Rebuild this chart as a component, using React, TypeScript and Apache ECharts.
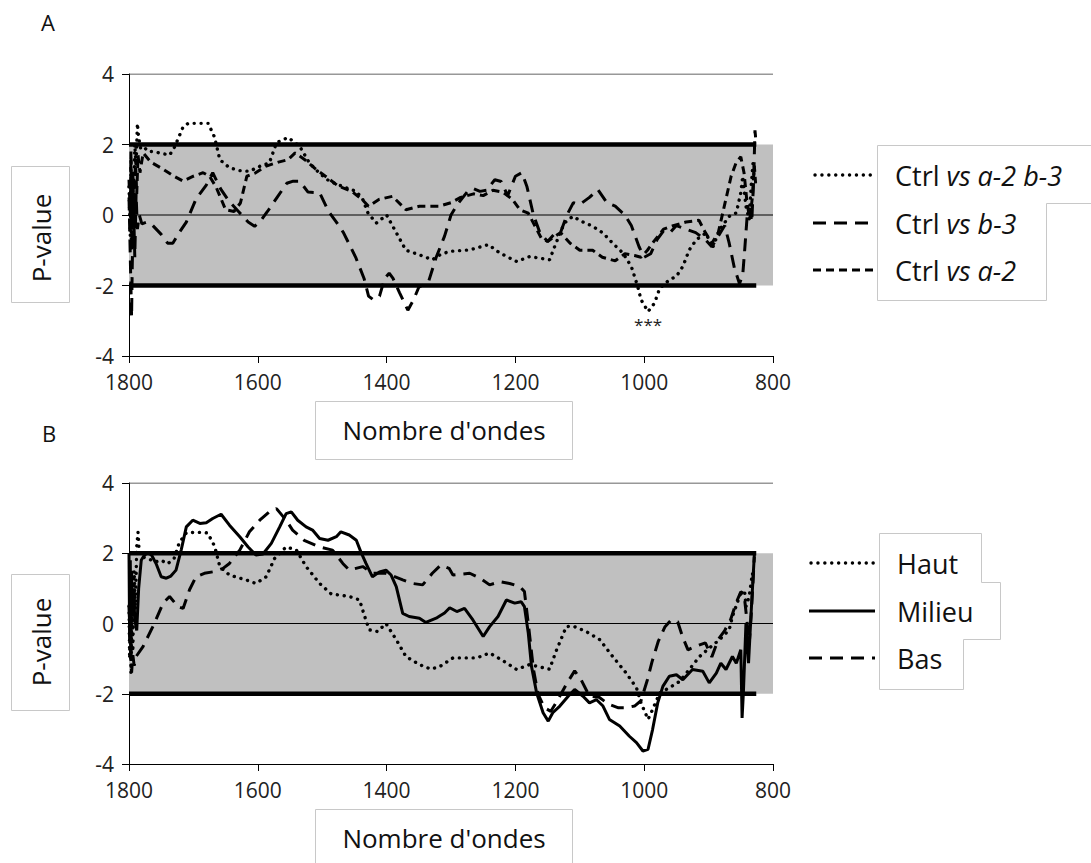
import React, { useEffect, useRef } from "react";
import * as echarts from "echarts";

type Pt = [number, number];

const FONT = "'Open Sans', 'DejaVu Sans', sans-serif";

const xTicks = [1800, 1600, 1400, 1200, 1000, 800];
const yTicks = [-4, -2, 0, 2, 4];

const legendA = ["Ctrl vs a-2 b-3", "Ctrl vs b-3", "Ctrl vs a-2"];
const legendB = ["Haut", "Milieu", "Bas"];

// Panel A — Ctrl vs a-2 b-3 (dotted)
const ctrlA2B3: Pt[] = [
  [1800, 0.8], [1798, -0.6], [1797, 1.6], [1796, -1.0], [1794, 1.2], [1793, 0.2], [1791, 2.0], [1789, 1.4],
  [1787, 2.6], [1785, 2.2], [1782, 1.9], [1778, 1.95], [1770, 1.8], [1763, 1.8], [1750, 1.75], [1737, 1.7],
  [1730, 1.9], [1724, 2.15], [1716, 2.5], [1708, 2.6], [1690, 2.6], [1677, 2.6], [1667, 2.2], [1659, 1.57],
  [1644, 1.34], [1628, 1.26], [1613, 1.24], [1597, 1.38], [1582, 1.48], [1571, 2.05], [1553, 2.2], [1535, 1.95],
  [1520, 1.48], [1505, 1.2], [1489, 0.96], [1463, 0.77], [1447, 0.67], [1437, 0.44], [1429, 0.06], [1416, -0.23],
  [1400, 0.0], [1385, -0.5], [1370, -1.0], [1349, -1.13], [1329, -1.27], [1317, -1.13], [1302, -1.03],
  [1271, -0.99], [1242, -0.84], [1224, -1.08], [1198, -1.32], [1178, -1.18], [1147, -1.27], [1137, -0.8],
  [1124, -0.23], [1111, -0.04], [1095, -0.2], [1080, -0.32], [1064, -0.51], [1049, -0.8], [1033, -1.08],
  [1020, -1.46], [1010, -2.03], [1005, -2.4], [994, -2.74], [984, -2.5], [976, -2.08], [961, -1.84],
  [950, -1.74], [940, -1.46], [930, -0.99], [919, -0.7], [904, -0.51], [894, -0.94], [883, -0.42],
  [868, -0.04], [857, 0.06], [850, 0.63], [847, 1.1], [842, 0.25], [837, -0.13], [834, 0.8], [831, 1.48],
];

// Panel A — Ctrl vs b-3 (long dashes)
const ctrlB3: Pt[] = [
  [1800, 0.5], [1798, -1.2], [1796, -2.9], [1795, -1.5], [1793, 0.3], [1791, -1.2], [1789, 0.6], [1787, -0.4],
  [1784, 0.0], [1780, -0.25], [1772, -0.2], [1763, -0.3], [1750, -0.55], [1740, -0.8], [1732, -0.8],
  [1722, -0.5], [1711, -0.2], [1696, 0.45], [1680, 0.85], [1670, 1.2], [1658, 0.75], [1645, 0.4], [1630, 0.1],
  [1615, -0.2], [1605, -0.32], [1595, -0.15], [1585, 0.1], [1570, 0.5], [1555, 0.9], [1545, 0.96],
  [1535, 0.96], [1522, 0.65], [1504, 0.63], [1490, 0.1], [1478, -0.2], [1467, -0.5], [1448, -1.2],
  [1435, -1.8], [1428, -2.3], [1421, -2.4], [1411, -2.3], [1403, -1.8], [1396, -1.65], [1390, -1.8],
  [1380, -2.2], [1367, -2.7], [1358, -2.4], [1350, -2.05], [1335, -1.9], [1323, -1.2], [1310, -0.6],
  [1300, 0.0], [1290, 0.3], [1275, 0.65], [1265, 0.75], [1255, 0.67], [1245, 0.7], [1232, 1.0], [1222, 0.95],
  [1212, 0.55], [1200, 1.1], [1190, 1.2], [1182, 0.8], [1172, 0.0], [1162, -0.5], [1150, -0.75],
  [1140, -0.55], [1130, -0.5], [1120, 0.0], [1110, 0.35], [1100, 0.3], [1085, 0.5], [1072, 0.72],
  [1058, 0.35], [1045, 0.25], [1030, 0.0], [1020, -0.3], [1008, -0.9], [1000, -1.2], [990, -1.1],
  [980, -0.7], [970, -0.45], [960, -0.5], [950, -0.3], [935, -0.4], [920, -0.5], [905, -0.7], [895, -0.9],
  [885, -0.6], [875, -0.3], [868, -0.8], [860, -1.5], [852, -1.95], [847, -1.7], [844, -1.0], [840, 0.0],
  [836, 0.2], [833, -0.2], [830, 1.0], [828, 2.4], [827, 2.2],
];

// Panel A — Ctrl vs a-2 (short dashes)
const ctrlA2: Pt[] = [
  [1800, 1.0], [1798, 0.0], [1797, 1.8], [1795, -0.8], [1794, 1.2], [1792, -0.3], [1790, 1.6], [1788, 0.6],
  [1786, 1.7], [1783, 1.2], [1778, 1.76], [1766, 1.5], [1747, 1.3], [1730, 1.1], [1716, 0.96], [1700, 1.1],
  [1685, 1.2], [1675, 1.1], [1665, 0.8], [1658, 0.5], [1650, 0.15], [1637, 0.1], [1627, 0.34], [1617, 1.1],
  [1604, 1.19], [1588, 1.38], [1568, 1.5], [1553, 1.57], [1542, 1.76], [1527, 1.57], [1510, 1.3],
  [1495, 1.1], [1475, 0.82], [1454, 0.67], [1438, 0.44], [1428, 0.25], [1412, 0.44], [1391, 0.53],
  [1370, 0.15], [1349, 0.25], [1318, 0.25], [1300, 0.35], [1285, 0.5], [1265, 0.6], [1250, 0.55],
  [1235, 0.7], [1220, 0.65], [1205, 0.45], [1193, 0.15], [1180, 0.05], [1170, -0.3], [1160, -0.65],
  [1150, -0.75], [1130, -0.5], [1115, -0.8], [1100, -1.0], [1080, -1.0], [1065, -1.2], [1045, -1.3],
  [1030, -1.1], [1015, -1.15], [1005, -1.2], [995, -1.0], [985, -0.75], [970, -0.4], [955, -0.3],
  [935, -0.2], [915, -0.15], [905, -0.5], [895, -0.8], [885, -0.5], [875, 0.3], [865, 1.1], [857, 1.5],
  [850, 1.65], [845, 1.2], [840, 0.3], [836, -0.1], [832, 0.5], [829, 1.4], [827, 0.9],
];

// Panel B — Haut (dotted)
const haut: Pt[] = [
  [1800, 0.5], [1799, -1.0], [1798, 1.2], [1797, -1.4], [1795, 1.0], [1794, -0.8], [1792, 1.5], [1790, 0.4],
  [1788, 2.2], [1786, 2.6], [1784, 2.0], [1780, 1.9], [1770, 1.85], [1760, 1.75], [1750, 1.8], [1740, 1.7],
  [1730, 1.85], [1722, 2.3], [1711, 2.58], [1695, 2.6], [1678, 2.58], [1667, 2.2], [1659, 1.62],
  [1644, 1.38], [1618, 1.24], [1603, 1.14], [1587, 1.33], [1574, 1.85], [1556, 2.18], [1540, 2.09],
  [1525, 1.62], [1504, 1.14], [1486, 0.84], [1458, 0.77], [1442, 0.67], [1434, 0.2], [1427, -0.18],
  [1414, -0.23], [1401, 0.0], [1385, -0.46], [1370, -0.94], [1349, -1.17], [1331, -1.3], [1317, -1.22],
  [1297, -0.98], [1260, -0.98], [1240, -0.84], [1220, -1.05], [1198, -1.31], [1178, -1.17], [1147, -1.3],
  [1136, -0.75], [1121, -0.09], [1111, -0.07], [1090, -0.23], [1069, -0.46], [1049, -0.94], [1028, -1.41],
  [1012, -1.83], [1005, -2.26], [994, -2.73], [987, -2.45], [976, -1.98], [961, -1.83], [945, -1.65],
  [930, -1.31], [914, -0.94], [899, -0.7], [883, -0.46], [868, -0.18], [863, 0.2], [852, 0.77], [850, 0.86],
  [844, 0.9], [842, 0.48], [837, 0.77], [832, 1.43], [829, 1.24],
];

// Panel B — Milieu (solid)
const milieu: Pt[] = [
  [1800, 2.0], [1799, -0.5], [1798, 1.8], [1797, -1.0], [1796, 1.5], [1795, 0.2], [1793, 1.0], [1791, 0.1],
  [1788, -0.2], [1785, 1.0], [1781, 1.8], [1776, 1.95], [1771, 2.0], [1765, 1.95], [1758, 1.71], [1750, 1.33],
  [1742, 1.29], [1735, 1.35], [1727, 1.52], [1719, 2.09], [1711, 2.75], [1701, 2.94], [1690, 2.85],
  [1680, 2.87], [1670, 2.99], [1657, 3.11], [1644, 2.8], [1628, 2.47], [1615, 2.18], [1603, 1.95],
  [1592, 1.98], [1579, 2.28], [1566, 2.75], [1556, 3.13], [1548, 3.18], [1538, 2.94], [1525, 2.75],
  [1515, 2.66], [1504, 2.42], [1491, 2.37], [1478, 2.47], [1471, 2.61], [1458, 2.52], [1447, 2.37],
  [1440, 2.04], [1432, 1.71], [1422, 1.33], [1411, 1.47], [1401, 1.52], [1393, 1.38], [1385, 1.05],
  [1375, 0.29], [1365, 0.2], [1349, 0.15], [1339, 0.03], [1323, 0.15], [1317, 0.22], [1310, 0.3],
  [1302, 0.45], [1291, 0.34], [1279, 0.43], [1266, 0.1], [1250, -0.37], [1240, -0.09], [1227, 0.2],
  [1214, 0.67], [1201, 0.58], [1191, 0.62], [1186, 0.48], [1180, -0.27], [1175, -1.22], [1167, -1.98],
  [1157, -2.54], [1149, -2.78], [1142, -2.54], [1131, -2.35], [1118, -2.07], [1108, -1.88], [1095, -2.07],
  [1085, -2.26], [1074, -2.17], [1064, -2.35], [1054, -2.73], [1038, -2.92], [1023, -3.21], [1012, -3.39],
  [1002, -3.63], [994, -3.58], [987, -3.02], [979, -2.26], [971, -1.79], [961, -1.5], [950, -1.46],
  [940, -1.6], [925, -1.31], [909, -1.36], [899, -1.69], [888, -1.41], [881, -1.13], [873, -1.31],
  [863, -0.94], [857, -1.13], [850, -0.75], [848, -2.69], [846, -1.98], [842, 0.0], [838, -1.13],
  [834, 0.3], [829, 1.95],
];

// Panel B — Bas (dashed)
const bas: Pt[] = [
  [1800, 0.5], [1798, -0.5], [1796, -1.4], [1794, -0.9], [1792, -1.2], [1789, -0.94], [1778, -0.65],
  [1763, -0.09], [1747, 0.58], [1737, 0.77], [1724, 0.48], [1716, 0.43], [1706, 0.96], [1696, 1.33],
  [1683, 1.43], [1670, 1.47], [1654, 1.57], [1644, 1.71], [1628, 2.09], [1613, 2.61], [1597, 2.94],
  [1582, 3.18], [1571, 3.27], [1556, 2.94], [1546, 2.66], [1528, 2.37], [1504, 2.18], [1484, 2.09],
  [1468, 1.71], [1458, 1.52], [1437, 1.62], [1422, 1.43], [1401, 1.43], [1375, 1.24], [1360, 1.14],
  [1344, 1.1], [1329, 1.43], [1316, 1.66], [1303, 1.57], [1297, 1.38], [1271, 1.43], [1255, 1.29],
  [1240, 1.1], [1224, 1.19], [1209, 1.14], [1193, 1.05], [1186, 0.91], [1180, 0.0], [1172, -1.3],
  [1165, -2.0], [1155, -2.4], [1145, -2.5], [1135, -2.2], [1120, -1.7], [1108, -1.35], [1098, -1.6],
  [1085, -2.07], [1070, -2.1], [1055, -2.3], [1040, -2.4], [1028, -2.4], [1015, -2.35], [1005, -2.2],
  [995, -1.6], [988, -1.1], [978, -0.5], [968, -0.1], [958, 0.1], [948, 0.05], [940, -0.4], [932, -0.75],
  [920, -0.65], [905, -0.55], [895, -0.95], [885, -0.45], [875, -0.2], [866, 0.1], [857, 0.6], [850, 0.9],
  [845, 0.85], [840, 0.0], [837, -0.6], [834, 0.2], [831, 1.2], [829, 1.9],
];

// threshold band and reference lines (data units)
const bandLimit = 2;
const bandEnd = 826;
const bandRight = 794;
const sigMark: Pt = [994, -2.74];

const DOT = { type: [0.1, 6.8] as number[], cap: "round", width: 3.4 };
const LONG = { type: [13, 8] as number[], width: 3 };
const SHORT = { type: [8, 5] as number[], width: 3 };
const SOLID = { type: "solid", width: 3 };

export default function App() {
  const ref = useRef<HTMLDivElement>(null);

  useEffect(() => {
    const chart = echarts.init(ref.current!, null, { renderer: "svg" });

    const xAxisBase = (gridIndex: number) => ({
      gridIndex,
      type: "value",
      min: xTicks[xTicks.length - 1],
      max: xTicks[0],
      interval: 200,
      inverse: true,
      axisLine: { show: true, onZero: false, lineStyle: { color: "#000", width: 1 } },
      axisTick: { show: true, length: 7, lineStyle: { color: "#000" } },
      axisLabel: { fontSize: 21, color: "#222", margin: 15, fontFamily: FONT, formatter: (v: number) => String(v) },
      splitLine: { show: false },
    });
    const yAxisBase = (gridIndex: number) => ({
      gridIndex,
      type: "value",
      min: yTicks[0],
      max: yTicks[yTicks.length - 1],
      interval: 2,
      axisLine: { show: true, lineStyle: { color: "#000", width: 1 } },
      axisTick: { show: true, length: 7, lineStyle: { color: "#000" } },
      axisLabel: { fontSize: 21, color: "#222", margin: 15, fontFamily: FONT, formatter: (v: number) => String(v) },
      splitLine: { show: false },
    });

    const panelSeries = (idx: number, curves: { data: Pt[]; style: any; name: string }[], mark?: boolean) => {
      const base = { xAxisIndex: idx, yAxisIndex: idx, type: "line", showSymbol: false, symbol: "none", silent: true };
      const out: any[] = [
        {
          ...base,
          name: "band" + idx,
          data: [[xTicks[0], 0]],
          lineStyle: { opacity: 0 },
          clip: false,
          z: 1,
          markArea: {
            silent: true,
            itemStyle: { color: "#c0c0c0" },
            data: [[{ coord: [xTicks[0], -bandLimit] }, { coord: [bandRight, bandLimit] }]],
          },
        },
        { ...base, name: "zero" + idx, data: [[xTicks[0], 0], [xTicks[xTicks.length - 1], 0]], lineStyle: { color: "#000", width: 1 }, z: 2 },
        { ...base, name: "top" + idx, data: [[xTicks[0], yTicks[yTicks.length - 1]], [xTicks[xTicks.length - 1], yTicks[yTicks.length - 1]]], lineStyle: { color: "#333", width: 1 }, z: 2 },
        { ...base, name: "hi" + idx, data: [[xTicks[0], bandLimit], [bandEnd, bandLimit]], lineStyle: { color: "#000", width: 4.5 }, z: 3 },
        { ...base, name: "lo" + idx, data: [[xTicks[0], -bandLimit], [bandEnd, -bandLimit]], lineStyle: { color: "#000", width: 4.5 }, z: 3 },
      ];
      curves.forEach((c, i) => {
        const s: any = { ...base, name: c.name, data: c.data, lineStyle: { color: "#000", ...c.style }, z: 4 };
        if (mark && i === 0) {
          s.markPoint = {
            silent: true,
            symbol: "circle",
            symbolSize: 1,
            itemStyle: { color: "rgba(0,0,0,0)" },
            label: { show: true, formatter: "***", position: "inside", offset: [0, 13], fontSize: 17, color: "#222", fontFamily: FONT },
            data: [{ coord: sigMark }],
          };
        }
        out.push(s);
      });
      return out;
    };

    const txt = { fontFamily: FONT, fill: "#111" };
    const boxStroke = { fill: "#fff", stroke: "#c8c8c8", lineWidth: 1 };

    const legendLine = (x1: number, x2: number, y: number, style: any) => ({
      type: "line",
      shape: { x1, y1: y, x2, y2: y },
      style: { stroke: "#000", lineWidth: 3, ...style },
      silent: true,
    });

    const LF = 27;
    const rich = {
      n: { fontFamily: FONT, fontSize: LF, fill: "#111", color: "#111" },
      i: { fontFamily: FONT, fontSize: LF, fontStyle: "italic", fill: "#111", color: "#111" },
    };
    const itl = (s: string) => {
      const k = s.indexOf(" vs ");
      return `{n|${s.slice(0, k)} }{i|vs ${s.slice(k + 4)}}`;
    };

    const graphic: any[] = [
      { type: "text", x: 41, y: 22, style: { ...txt, text: "A", fontSize: 22, verticalAlign: "middle" } },
      { type: "text", x: 42, y: 433, style: { ...txt, text: "B", fontSize: 22, verticalAlign: "middle" } },
      // y titles
      { type: "rect", shape: { x: 11.5, y: 166.5, width: 58, height: 136 }, style: boxStroke, z: 10 },
      { type: "text", x: 41, y: 238, rotation: Math.PI / 2, style: { ...txt, text: "P-value", fontSize: 26, align: "center", verticalAlign: "middle" }, z: 11 },
      { type: "rect", shape: { x: 11.5, y: 574.5, width: 58, height: 136 }, style: boxStroke, z: 10 },
      { type: "text", x: 41, y: 642, rotation: Math.PI / 2, style: { ...txt, text: "P-value", fontSize: 26, align: "center", verticalAlign: "middle" }, z: 11 },
      // x titles
      { type: "rect", shape: { x: 315.5, y: 401.5, width: 257, height: 58 }, style: boxStroke, z: 10 },
      { type: "text", x: 444, y: 430, style: { ...txt, text: "Nombre d'ondes", fontSize: 26, align: "center", verticalAlign: "middle" }, z: 11 },
      { type: "rect", shape: { x: 315.5, y: 809.5, width: 257, height: 70 }, style: boxStroke, z: 10 },
      { type: "text", x: 444, y: 838, style: { ...txt, text: "Nombre d'ondes", fontSize: 26, align: "center", verticalAlign: "middle" }, z: 11 },
      // legend A
      {
        type: "polygon",
        shape: { points: [[1095, 145.5], [877.5, 145.5], [877.5, 300.5], [1046.5, 300.5], [1046.5, 203.5], [1095, 203.5]] },
        style: boxStroke, z: 10,
      },
      legendLine(815, 873, 175, { lineDash: [0.1, 6.8], lineCap: "round", lineWidth: 3.4 }),
      legendLine(813, 873, 223, { lineDash: [13, 8] }),
      legendLine(813, 873, 270, { lineDash: [8, 5] }),
      ...legendA.map((s, i) => ({ type: "text", x: 895, y: [175, 223, 270][i], z: 11, style: { text: itl(s), rich, verticalAlign: "middle", fontFamily: FONT, fontSize: LF } })),
      // legend B
      {
        type: "polygon",
        shape: { points: [[879.5, 533.5], [981.5, 533.5], [981.5, 582.5], [1000.5, 582.5], [1000.5, 639.5], [963.5, 639.5], [963.5, 689.5], [879.5, 689.5]] },
        style: boxStroke, z: 10,
      },
      legendLine(811, 875, 563, { lineDash: [0.1, 6.8], lineCap: "round", lineWidth: 3.4 }),
      legendLine(809, 875, 611, {}),
      legendLine(809, 875, 658, { lineDash: [13, 8] }),
      ...legendB.map((s, i) => ({ type: "text", x: 897, y: [563, 611, 658][i], z: 11, style: { ...txt, text: s, fontSize: LF, verticalAlign: "middle" } })),
    ];

    chart.setOption({
      animation: false,
      backgroundColor: "#fff",
      grid: [
        { left: 129, top: 74, width: 644, height: 282 },
        { left: 129, top: 483, width: 644, height: 281 },
      ],
      xAxis: [xAxisBase(0), xAxisBase(1)],
      yAxis: [yAxisBase(0), yAxisBase(1)],
      series: [
        ...panelSeries(0, [
          { name: legendA[0], data: ctrlA2B3, style: DOT },
          { name: legendA[1], data: ctrlB3, style: LONG },
          { name: legendA[2], data: ctrlA2, style: SHORT },
        ], true),
        ...panelSeries(1, [
          { name: legendB[0], data: haut, style: DOT },
          { name: legendB[1], data: milieu, style: SOLID },
          { name: legendB[2], data: bas, style: LONG },
        ]),
      ],
      graphic,
    });

    return () => chart.dispose();
  }, []);

  return <div ref={ref} style={{ position: "absolute", left: 0, top: 0, width: 1091, height: 863 }} />;
}
